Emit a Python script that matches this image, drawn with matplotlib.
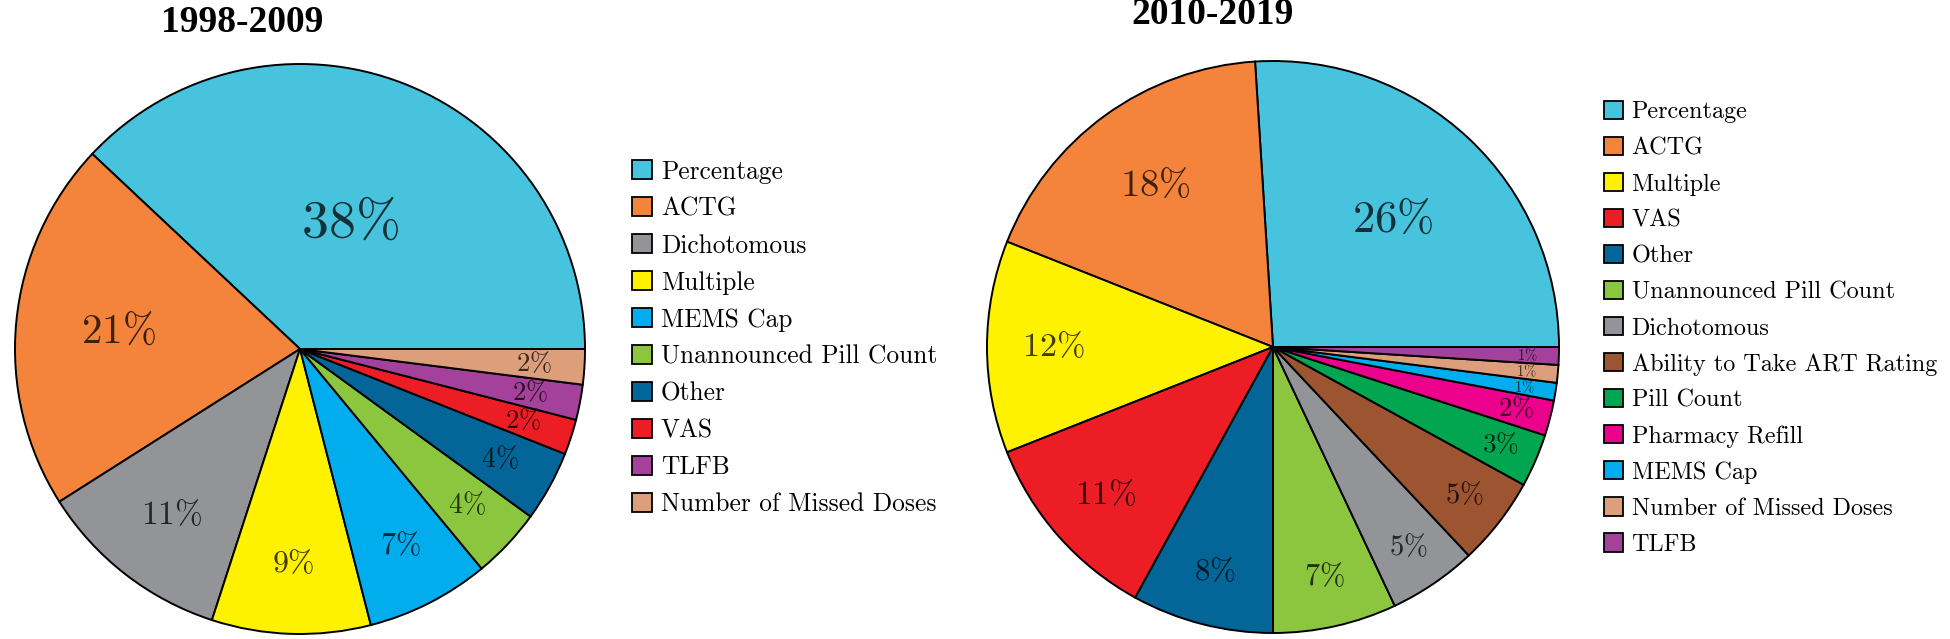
import matplotlib
matplotlib.use("Agg")
import matplotlib.pyplot as plt
import numpy as np
from matplotlib.patches import Patch

plt.rcParams["mathtext.fontset"] = "cm"

# ---- data ----
LEFT_TITLE = "1998-2009"
LEFT_LABELS = ["Percentage", "ACTG", "Dichotomous", "Multiple", "MEMS Cap",
               "Unannounced Pill Count", "Other", "VAS", "TLFB",
               "Number of Missed Doses"]
LEFT_VALUES = [38, 21, 11, 9, 7, 4, 4, 2, 2, 2]

RIGHT_TITLE = "2010-2019"
RIGHT_LABELS = ["Percentage", "ACTG", "Multiple", "VAS", "Other",
                "Unannounced Pill Count", "Dichotomous",
                "Ability to Take ART Rating", "Pill Count", "Pharmacy Refill",
                "MEMS Cap", "Number of Missed Doses", "TLFB"]
RIGHT_VALUES = [26, 18, 12, 11, 8, 7, 5, 5, 3, 2, 1, 1, 1]

COLORS = {
    "Percentage": "#48C3DE",
    "ACTG": "#F4843B",
    "Dichotomous": "#929497",
    "Multiple": "#FFF200",
    "MEMS Cap": "#02ADEE",
    "Unannounced Pill Count": "#8CC63F",
    "Other": "#036598",
    "VAS": "#EC1D25",
    "TLFB": "#A3419B",
    "Number of Missed Doses": "#DD9F7B",
    "Ability to Take ART Rating": "#9D5431",
    "Pill Count": "#02A650",
    "Pharmacy Refill": "#EB018B",
}

W, H = 1950, 639


def draw_pie(fig, labels, values, center_px, radius_px, title, title_px,
             legend_px, legend_fs, legend_spacing, r_base, r_slope):
    cx, cy = center_px
    ax = fig.add_axes([(cx - radius_px) / W, (H - cy - radius_px) / H,
                       2 * radius_px / W, 2 * radius_px / H])
    colors = [COLORS[l] for l in labels]
    wedges, _ = ax.pie(values, colors=colors, startangle=0, radius=1.0,
                       wedgeprops=dict(edgecolor="black", linewidth=1.4))
    total = float(sum(values))
    for w, v in zip(wedges, values):
        frac = v / total
        mid = np.deg2rad(0.5 * (w.theta1 + w.theta2))
        r = r_base - r_slope * frac
        fs = 18 + 0.55 * v if v > 1 else 10.5
        ax.text(r * np.cos(mid), r * np.sin(mid), r"$%d\%%$" % v,
                ha="center", va="center", fontsize=fs,
                color="black", alpha=0.75)
    ax.set_xlim(-1, 1)
    ax.set_ylim(-1, 1)
    ax.set_aspect("equal")
    ax.axis("off")

    fig.text(title_px[0] / W, 1 - title_px[1] / H, title,
             ha="center", va="center", fontsize=27, fontweight="bold",
             family="Liberation Serif")

    handles = [Patch(facecolor=COLORS[l], edgecolor="black", linewidth=1.3,
                     label=l) for l in labels]
    fig.legend(handles=handles, loc="upper left",
               bbox_to_anchor=(legend_px[0] / W, 1 - legend_px[1] / H),
               frameon=False, prop=dict(family="cmr10", size=legend_fs),
               handlelength=0.78, handleheight=0.78, handletextpad=0.36,
               labelspacing=legend_spacing, borderpad=0, borderaxespad=0)


fig = plt.figure(figsize=(W / 100, H / 100), dpi=100)

draw_pie(fig, LEFT_LABELS, LEFT_VALUES, (300, 349), 285, LEFT_TITLE,
         (242, 22), (632, 160), 18.3, 0.52, 0.84, 0.95)
draw_pie(fig, RIGHT_LABELS, RIGHT_VALUES, (1273, 347), 286, RIGHT_TITLE,
         (1213, 14), (1604, 101), 17.4, 0.56, 0.90, 1.1)

fig.savefig("out.png", dpi=100)
